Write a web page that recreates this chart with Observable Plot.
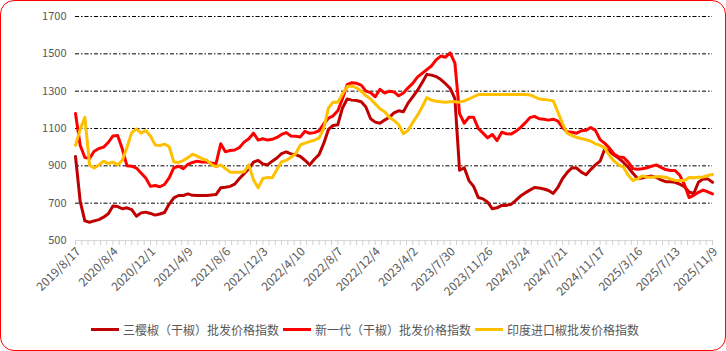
<!DOCTYPE html>
<html>
<head>
<meta charset="utf-8">
<script src="https://cdn.jsdelivr.net/npm/d3@7"></script>
<script src="https://cdn.jsdelivr.net/npm/@observablehq/plot@0.6"></script>
<style>
  body { margin: 0; background: #fff; }
  #wrap { position: relative; width: 726px; height: 351px; font-family: "Noto Sans CJK SC", "Noto Sans", sans-serif; background:#fff; }
  #frame { position: absolute; left: 0; top: 0; width: 726px; height: 351px; box-sizing: border-box; border: 1.5px solid #ff0000; border-radius: 14px; pointer-events: none; }
  #chart { position: absolute; left: 0; top: 0; }
  #legend { position: absolute; left: 0; top: 321px; width: 726px; display: flex; justify-content: center; align-items: center; font-size: 12px; color: #595959; white-space: nowrap; }
  .sw { display: inline-block; width: 28px; height: 3px; margin: 0 4px 0 4px; }
</style>
</head>
<body>
<div id="wrap">
  <div id="chart"></div>
  <div id="legend"></div>
  <div id="frame"></div>
</div>
<script>
// Series names and colours
const seriesNames = ["三樱椒（干椒）批发价格指数", "新一代（干椒）批发价格指数", "印度进口椒批发价格指数"];
const seriesColors = ["#C00000", "#FF0000", "#FFC000"];

// Category-axis tick labels (one every 8 samples)
const dateLabels = ["2019/8/17","2020/8/4","2020/12/1","2021/4/9","2021/8/6","2021/12/3","2022/4/10","2022/8/7","2022/12/4","2023/4/2","2023/7/30","2023/11/26","2024/3/24","2024/7/21","2024/11/17","2025/3/16","2025/7/13","2025/11/9"];

const yTicks = [500, 700, 900, 1100, 1300, 1500, 1700];

// 三樱椒（干椒）
const sanying = [950,710,605,598,605,612,625,643,685,682,670,675,665,630,648,652,645,636,642,650,
695,728,741,741,750,742,741,741,741,744,746,782,785,790,802,832,858,884,920,929,
910,905,925,942,965,975,964,960,950,930,905,935,960,1020,1095,1116,1120,1210,1258,1252,
1250,1243,1215,1152,1134,1128,1145,1160,1184,1195,1190,1236,1270,1304,1345,1390,1386,1378,1362,1340,
1315,1260,876,890,821,790,730,723,705,670,675,688,688,694,715,738,755,770,784,781,
776,768,752,785,832,865,890,888,866,852,880,905,925,990,978,958,940,918,892,860,
832,835,842,845,838,825,815,815,812,802,788,760,752,812,830,830,812];

// 新一代（干椒）
const xinyidai = [1180,1010,945,940,978,993,1000,1025,1060,1063,990,900,898,888,862,835,790,795,788,800,
835,890,898,885,908,918,925,920,920,915,911,1018,975,982,985,998,1027,1045,1075,1038,
1045,1038,1042,1052,1068,1078,1060,1058,1055,1085,1074,1078,1088,1125,1155,1168,1195,1259,1335,1345,
1342,1332,1300,1292,1270,1310,1290,1300,1296,1275,1290,1318,1342,1375,1395,1415,1435,1468,1488,1482,
1505,1450,1180,1128,1160,1160,1100,1075,1050,1068,1035,1080,1072,1070,1085,1105,1130,1158,1165,1152,
1150,1145,1150,1140,1105,1082,1080,1075,1088,1090,1105,1090,1040,1020,995,962,948,945,920,885,
882,884,890,898,905,892,880,875,875,850,800,730,742,758,770,760,750];

// 印度进口椒
const yindu = [1010,1095,1160,905,888,905,925,912,920,905,930,1000,1078,1098,1075,1089,1060,1012,1009,1016,
1002,920,918,928,944,962,952,938,930,908,895,905,886,866,866,866,868,905,825,782,
832,838,836,880,922,929,946,965,1012,1022,1030,1037,1050,1100,1210,1241,1241,1285,1325,1328,
1318,1300,1276,1258,1232,1206,1190,1160,1143,1120,1072,1090,1132,1170,1215,1265,1252,1246,1243,1241,
1243,1243,1241,1248,1258,1270,1282,1282,1282,1282,1282,1282,1282,1282,1282,1282,1282,1280,1270,1258,
1256,1252,1248,1187,1125,1075,1062,1052,1046,1040,1032,1018,1010,995,955,925,905,893,850,822,
830,846,840,839,842,841,839,830,823,821,821,838,836,839,840,848,854];

const seriesValues = [sanying, xinyidai, yindu];
const labelEvery = 8;          // samples between date labels
const minorPerLabel = 6;       // minor ticks between date labels
const nSteps = (dateLabels.length - 1) * labelEvery;

const rows = [];
seriesValues.forEach((vals, s) => vals.forEach((v, i) => rows.push({i, v, s: seriesNames[s]})));

const labelIdx = dateLabels.map((_, k) => k * labelEvery);
const minorIdx = d3.range(0, (dateLabels.length - 1) * minorPerLabel + 1).map(k => k * labelEvery / minorPerLabel);

const chart = Plot.plot({
  width: 726,
  height: 305,
  marginTop: 16,
  marginBottom: 65,
  marginLeft: 75,
  marginRight: 14,
  style: { fontFamily: '"Noto Sans CJK SC", "Noto Sans", sans-serif', background: "transparent" },
  x: { domain: [0, nSteps], label: null },
  y: { domain: [500, 1700], label: null },
  color: { domain: seriesNames, range: seriesColors },
  marks: [
    Plot.ruleY(yTicks.filter(d => d > 500), { stroke: "#000", strokeWidth: 1, strokeDasharray: "4,2,1.5,2" }),
    Plot.ruleY([500], { stroke: "#d9d9d9", strokeWidth: 1 }),
    Plot.axisX(minorIdx, { tickSize: 5, stroke: "#d0d0d0", tickFormat: () => "", label: null }),
    Plot.axisX(labelIdx, {
      tickSize: 0, tickPadding: 9, tickRotate: -45, dx: 3,
      tickFormat: d => dateLabels[Math.round(d / labelEvery)],
      fill: "#595959", fontSize: 12, label: null
    }),
    Plot.axisY(yTicks, { tickSize: 0, tickPadding: 9, fill: "#595959", fontSize: 11, tickFormat: d => String(d), label: null }),
    Plot.lineY(rows, { x: "i", y: "v", z: "s", stroke: "s", strokeWidth: 3, curve: "linear", strokeLinejoin: "round" })
  ]
});
document.getElementById("chart").appendChild(chart);

const legend = document.getElementById("legend");
seriesNames.forEach((name, k) => {
  const sw = document.createElement("span");
  sw.className = "sw";
  sw.style.background = seriesColors[k];
  legend.appendChild(sw);
  const t = document.createElement("span");
  t.textContent = name;
  legend.appendChild(t);
});
</script>
</body>
</html>
